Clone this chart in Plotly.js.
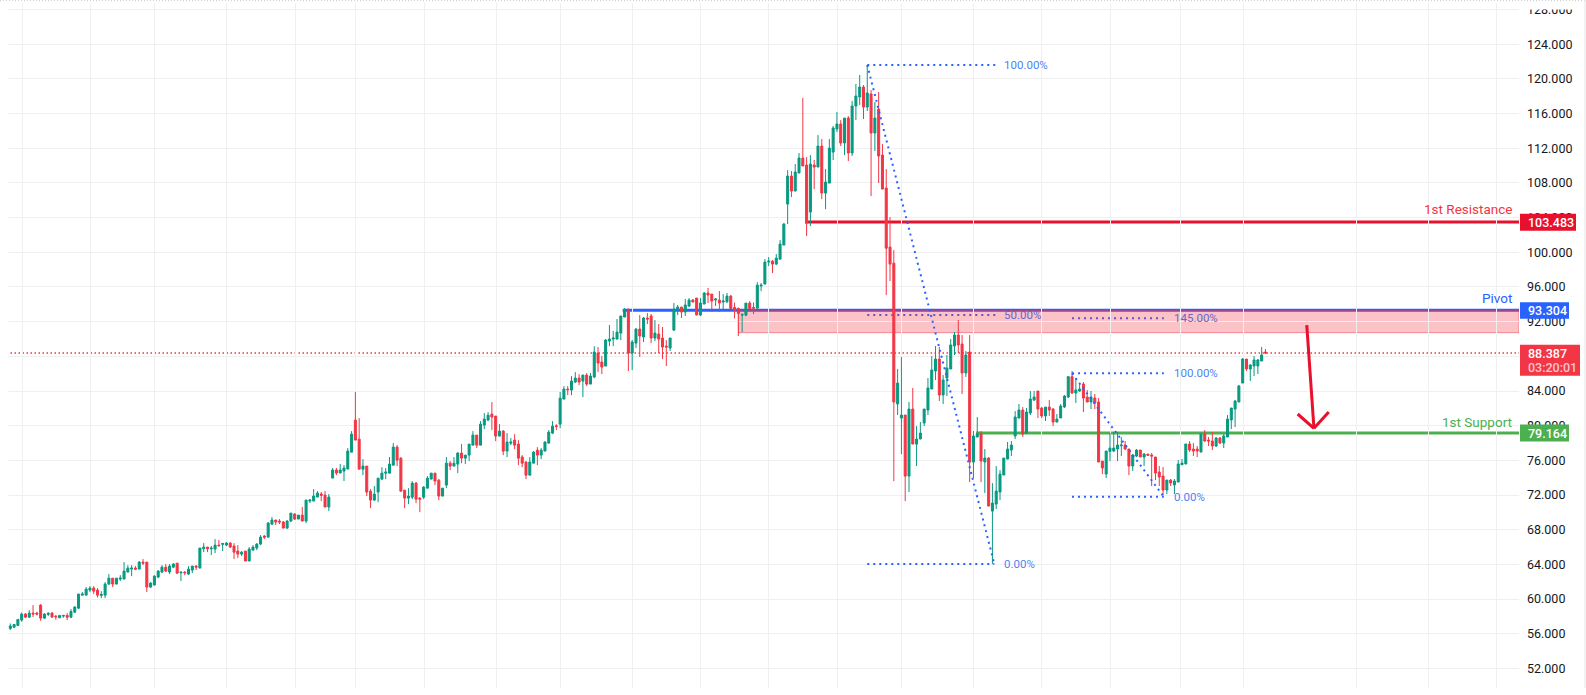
<!DOCTYPE html>
<html><head><meta charset="utf-8">
<script src="https://cdn.plot.ly/plotly-3.0.1.min.js"></script>
<style>html,body{margin:0;padding:0;background:#fff}#c{width:1586px;height:695px}</style>
</head><body><div id="c"></div>
<script>
const open = [56.62,56.77,56.96,57.58,58.27,57.92,58.39,58.39,59.31,57.81,
58.23,58.39,58.04,57.85,58.04,58.12,57.92,58.5,58.96,60.46,
60.46,61.04,61.27,61.04,60.42,60.46,61.73,62.42,61.73,62.31,
62.31,63.12,63.46,63.58,63.46,64.27,64.27,61.39,61.62,62.54,
63.12,63.69,63.12,63.69,64.15,63.04,63.12,62.89,63.35,63.81,
63.58,65.81,66.0,65.81,65.77,66.23,66.31,66.23,66.46,66.12,
65.54,65.19,65.54,64.39,65.65,65.89,66.35,67.27,67.15,68.65,
69.12,69.0,68.89,68.19,69.0,69.81,69.23,69.69,69.0,71.31,
71.31,71.77,72.12,72.0,70.62,73.96,74.89,74.54,74.77,75.0,
76.95,80.65,78.45,74.99,75.34,72.45,71.42,72.34,73.84,74.53,
74.53,75.45,77.53,76.26,72.57,71.65,71.76,73.38,71.65,71.76,
72.8,73.84,74.53,73.72,71.88,73.15,75.68,75.34,75.57,76.84,
76.26,76.61,77.76,78.92,77.76,80.07,80.65,81.34,81.11,78.8,
79.38,77.07,77.99,78.34,77.88,76.38,75.8,74.3,75.68,77.18,
76.61,77.07,77.99,79.15,79.99,80.18,83.07,84.22,84.11,85.03,
85.49,85.15,85.84,84.8,85.61,88.38,87.34,86.88,89.76,89.99,
89.99,90.68,92.53,93.45,88.38,89.53,91.15,90.22,92.42,92.65,
90.11,90.57,90.11,89.18,88.95,91.03,93.34,93.68,93.11,93.8,
94.49,94.72,92.76,94.03,95.3,95.18,94.49,94.49,94.26,94.29,
94.95,93.64,93.52,92.75,92.75,94.14,93.64,93.56,96.1,96.33,
98.87,98.98,98.64,99.21,100.83,105.56,108.79,107.06,109.14,110.87,
110.06,104.64,110.06,109.83,112.25,106.83,107.98,111.56,114.21,114.79,
112.6,115.48,111.45,116.87,117.91,119.06,116.75,118.25,113.75,116.52,
111.21,107.41,100.6,98.75,82.5,80.88,81.23,74.19,81.92,77.88,
78.46,80.31,81.81,84.23,86.31,87.69,83.54,85.5,86.54,89.19,
90.46,89.42,86.08,88.5,75.81,78.69,79.04,75.81,76.27,70.15,
70.96,72.35,74.31,76.15,77.19,78.81,80.88,81.81,79.15,81.46,
82.96,84.0,82.04,81.12,82.15,81.92,80.42,80.89,82.16,83.31,
85.66,83.77,84.0,84.81,83.31,82.73,83.19,82.73,75.92,74.42,
77.04,77.08,77.31,77.69,77.77,77.31,75.35,76.5,77.19,76.39,
76.73,76.62,76.39,74.66,74.19,72.58,73.73,73.16,73.5,75.5,
75.58,77.89,77.31,77.31,76.96,79.04,78.35,78.23,77.66,78.58,
78.0,78.69,80.66,81.92,82.73,84.92,87.69,86.54,86.89,86.89,87.46,88.5];
const high = [57.19,57.12,57.73,58.46,58.39,58.73,59.31,58.54,59.42,58.39,
58.5,58.5,58.15,58.12,58.12,58.39,58.85,59.19,60.58,60.81,
61.39,61.5,61.5,61.27,60.92,61.96,62.89,62.42,62.42,62.77,
64.27,63.92,63.92,63.81,64.39,64.62,64.27,61.96,62.77,63.35,
63.92,64.04,64.04,64.15,64.15,63.12,63.23,63.81,63.81,63.92,
65.89,66.46,66.0,66.12,66.92,66.81,66.46,66.58,66.58,66.46,
66.23,65.54,65.54,66.0,66.23,66.46,67.39,67.39,68.89,69.46,
69.12,69.23,69.0,69.12,69.92,69.92,69.69,70.62,71.42,71.54,
72.69,72.46,72.35,72.46,72.12,75.12,75.12,75.58,75.46,77.42,
79.38,83.88,80.88,76.15,75.34,72.68,73.03,73.95,75.22,75.11,
76.38,77.99,77.76,76.38,72.57,72.8,73.61,73.49,71.76,73.03,
74.18,74.53,74.53,73.84,72.8,76.38,75.92,76.38,76.95,77.88,
76.61,77.88,79.38,78.92,80.53,81.45,81.57,82.72,81.11,80.18,
79.49,79.15,78.57,79.03,78.34,76.61,75.92,76.38,77.07,77.53,
77.42,78.22,79.49,80.53,80.18,83.88,84.57,84.57,85.72,86.18,
85.95,85.84,86.07,86.07,89.18,89.07,88.03,89.99,91.61,90.92,
92.3,92.65,93.57,93.45,89.88,91.26,92.76,92.53,92.99,92.88,
92.18,91.72,91.38,89.88,90.11,94.15,93.92,93.68,94.61,94.72,
94.61,94.72,94.72,95.42,95.88,95.18,94.72,95.53,95.18,95.3,
95.07,94.21,93.64,92.95,94.14,94.37,94.21,96.56,96.45,99.21,
99.45,99.1,99.79,101.41,103.37,109.48,109.37,110.18,111.45,117.79,
110.98,111.21,110.64,113.52,113.06,109.6,113.06,114.56,116.18,115.25,
115.48,115.71,117.45,119.41,120.45,119.29,121.6,118.71,117.33,118.48,
112.48,109.6,104.06,100.25,86.54,87.92,81.23,82.73,84.35,79.96,
80.42,81.92,85.5,88.04,89.19,89.08,85.85,88.15,90.0,90.81,
92.19,90.46,88.62,90.46,79.38,81.0,79.38,77.31,76.38,73.38,
75.35,74.88,76.27,78.12,78.23,81.69,82.5,82.15,82.04,84.0,
84.0,84.0,82.15,82.15,82.96,82.04,81.35,82.5,83.54,85.66,
86.31,85.5,84.69,85.04,84.12,84.0,83.66,83.19,75.92,77.08,
79.16,79.27,79.27,78.69,78.23,77.31,76.73,77.31,77.19,76.85,
76.73,76.85,76.39,75.35,75.23,73.73,73.85,73.85,76.04,76.16,
77.89,78.23,78.0,77.66,79.04,79.5,78.69,79.27,78.69,78.69,
79.04,81.23,82.04,82.96,84.69,87.81,87.69,87.12,88.04,87.69,89.08,88.85];
const low = [56.42,56.65,56.89,57.39,57.81,57.85,57.92,58.12,57.5,57.7,
58.04,57.92,57.62,57.81,57.85,57.58,57.81,58.39,58.85,60.46,
60.46,60.81,60.58,60.19,60.12,60.12,61.62,61.38,61.73,62.08,
62.31,63.12,62.65,63.35,63.46,63.92,60.81,61.27,61.62,62.42,
63.0,63.12,62.89,63.58,62.89,62.08,62.77,62.77,63.0,63.35,
63.58,65.42,65.42,65.08,65.31,66.12,65.54,66.12,65.89,64.62,
64.73,64.96,64.39,64.39,65.65,65.65,66.23,66.92,67.15,68.54,
68.54,68.65,68.19,68.08,68.89,69.12,69.23,69.0,68.77,71.08,
71.31,71.77,71.31,70.62,70.15,73.96,74.31,74.54,73.62,75.0,
76.95,78.34,74.99,74.3,71.88,70.49,71.3,71.18,73.72,73.84,
74.53,75.45,75.34,72.45,70.49,70.95,71.53,71.07,70.03,71.53,
72.8,73.84,73.15,71.42,71.88,72.8,74.88,75.34,74.53,75.68,
75.57,75.92,77.76,77.42,77.76,79.61,80.53,79.49,78.22,78.8,
76.61,76.38,77.76,77.3,75.45,75.22,73.84,74.3,75.68,75.45,
76.15,77.07,77.99,79.03,79.49,79.72,83.07,83.53,83.53,84.92,
84.68,83.3,84.57,84.8,85.49,86.18,85.95,86.88,89.18,89.18,
89.99,89.88,92.53,86.3,86.42,88.95,87.92,89.65,91.72,89.53,
89.76,88.38,87.68,86.88,88.61,90.92,92.76,92.42,92.65,93.68,
94.26,92.76,92.65,94.03,94.15,93.11,93.8,93.11,93.45,94.15,
93.41,92.37,90.33,90.79,92.64,93.41,92.87,93.56,95.52,96.33,
98.41,97.6,98.52,99.21,100.83,103.25,106.37,107.06,109.14,109.95,
101.87,103.02,107.29,109.83,106.14,104.98,107.98,110.64,113.87,112.25,
111.21,110.52,111.1,115.25,116.98,115.37,116.29,106.48,111.68,107.98,
107.29,95.06,96.68,73.6,81.23,76.73,71.31,72.35,77.88,75.35,
78.46,79.96,81.23,84.23,85.27,82.85,82.5,83.42,86.54,88.15,
88.38,83.65,85.62,73.5,73.96,78.69,73.5,72.23,70.73,64.05,
70.38,71.42,74.31,76.15,76.5,78.46,80.88,78.69,79.04,81.23,
82.85,80.88,80.88,80.54,81.12,79.96,80.42,80.89,82.04,83.19,
83.66,82.62,83.89,81.58,82.73,81.92,81.92,75.81,74.42,73.96,
75.92,76.96,75.92,76.5,77.19,74.31,74.77,76.39,76.39,75.35,
76.54,73.04,73.73,73.04,72.0,72.12,73.04,72.12,73.5,75.5,
75.58,76.96,76.5,76.39,76.96,78.12,77.66,77.19,77.54,77.89,
77.42,78.69,79.62,79.85,82.73,84.92,86.31,85.16,85.73,85.96,87.46,88.27];
const close = [56.89,57.08,57.65,58.27,57.92,58.39,58.27,58.27,57.81,58.27,
58.35,57.92,57.96,58.12,58.12,57.92,58.58,59.08,60.58,60.58,
61.15,61.27,60.92,60.46,60.54,61.73,62.42,61.73,62.42,62.42,
63.23,63.58,63.58,63.46,64.27,64.15,61.39,61.85,62.65,63.23,
63.69,63.23,63.81,64.04,63.0,63.12,63.04,63.46,63.81,63.69,
65.89,66.0,65.81,65.89,66.23,66.15,66.42,66.46,66.0,65.42,
65.19,65.42,64.39,65.77,66.0,66.35,67.15,67.15,68.77,69.12,
68.89,68.89,68.19,69.0,69.92,69.23,69.69,69.0,71.42,71.42,
71.89,72.23,71.96,70.62,71.77,74.89,74.54,74.89,75.12,77.08,
79.03,78.34,74.99,75.34,72.34,71.42,72.11,73.95,74.53,74.65,
75.57,77.53,76.03,72.45,71.65,71.88,73.38,71.53,71.53,72.92,
73.95,74.53,73.61,71.88,72.8,75.68,75.34,75.68,76.84,76.26,
76.61,77.88,78.92,77.76,80.18,80.76,81.22,80.99,78.8,79.38,
77.07,78.11,78.11,77.76,76.26,75.68,74.3,75.8,76.95,76.61,
77.18,78.11,79.26,79.95,79.92,83.18,84.22,84.15,85.15,85.49,
85.03,85.84,84.8,85.72,88.49,87.22,86.76,89.88,89.99,90.11,
90.8,92.65,93.34,88.38,89.65,91.15,90.34,92.42,92.3,90.11,
90.68,89.99,89.07,89.07,90.11,93.45,93.68,93.11,93.92,94.49,
94.26,92.76,94.15,95.3,95.07,94.38,94.61,94.15,94.38,94.95,
93.52,93.29,92.95,92.83,94.14,93.52,93.56,96.21,96.21,98.87,
98.98,98.64,99.33,100.95,103.25,108.79,107.06,109.25,110.87,109.95,
103.37,110.18,109.83,112.25,106.83,108.1,112.02,114.33,114.79,112.6,
115.48,111.45,116.87,118.02,119.06,116.75,118.37,113.75,115.48,111.1,
107.29,100.48,98.64,82.73,84.92,81.23,74.19,81.92,77.88,78.46,
79.15,81.92,84.35,86.42,87.69,83.54,85.27,86.65,89.31,90.46,
89.31,86.08,88.15,75.81,78.81,79.04,75.92,76.27,70.73,71.08,
72.46,74.42,76.27,77.31,77.77,81.0,81.81,79.04,81.58,83.08,
83.31,81.92,81.12,82.15,81.81,80.42,80.77,82.27,83.42,85.66,
83.77,84.12,84.23,83.19,82.73,83.31,82.62,75.81,75.12,77.08,
77.42,77.42,77.77,77.77,77.31,75.35,76.62,77.19,76.39,76.73,
76.58,76.5,74.54,74.08,72.58,73.73,73.39,73.62,75.58,75.69,
77.89,77.19,77.08,77.08,79.04,78.23,78.23,77.66,78.58,78.0,
78.81,80.77,82.04,82.85,84.58,87.69,86.54,87.0,87.58,87.58,88.16,88.387];
const bars = open.map((_, i) => i + 1);
const gridBars = [4.16,22.1,39,58,76.2,92,110.2,129.2,146,165,183,200.9,219.1,236,255,272.9,291.1,309.5,326.2,356,375,392.9];
const priceTicks = [52,56,60,64,68,72,76,80,84,88,92,96,100,104,108,112,116,120,124,128];
const resistance = 103.483, pivot = 93.304, support = 79.164, last = 88.387, zoneLow = 90.73;
const fibA = {high:121.6, mid:92.77, low:64.05};
const fibB = {high:86.04, low:71.81, ext:92.4};

const BLUE='#2962FF', RED='#F23645', GREEN='#4CAF50', LINE_RED='#E8112D', FONT='Roboto, sans-serif';
const PX = v => (v-8)/1511, PY = v => (688-v)/685;
const seg=(x0,y0,x1,y1,color,width,dash,layer)=>({type:'line',xref:'x',yref:'y',x0,y0,x1,y1,layer:layer||'below',line:{color,width,dash:dash||'solid'}});
const xEnd=398.87;
const FDOT='2px,4px';
const shapes=[
 seg(162.5,pivot,xEnd,pivot,BLUE,3),
 seg(210.6,resistance,xEnd,resistance,LINE_RED,3),
 seg(255.7,support,xEnd,support,GREEN,3),
 seg(0,last,xEnd,last,RED,1.5,'1.5px,2.5px'),
 seg(227,fibA.mid,261,fibA.mid,BLUE,2,FDOT),
 seg(281,fibB.ext,305.2,fibB.ext,BLUE,2,FDOT),
 {type:'rect',xref:'x',yref:'y',x0:193,x1:xEnd,y0:zoneLow,y1:pivot,layer:'below',fillcolor:'rgba(242,54,69,0.3)',line:{color:'rgba(242,54,69,0.5)',width:1}},
 seg(227,fibA.high,261,fibA.high,BLUE,2,FDOT,'above'),
 seg(227,fibA.low,260.5,fibA.low,BLUE,2,FDOT,'above'),
 seg(227,fibA.high,260.5,fibA.low,BLUE,2,FDOT,'above'),
 seg(281,fibB.high,305.2,fibB.high,BLUE,2,FDOT,'above'),
 seg(281,fibB.low,305.2,fibB.low,BLUE,2,FDOT,'above'),
 seg(281,fibB.high,305.2,fibB.low,BLUE,2,FDOT,'above'),
 seg(342.9,91.61,344.8,79.7,LINE_RED,3,'solid','above'),
 seg(340.5,81.35,344.8,79.7,LINE_RED,3,'solid','above'),
 seg(348.7,81.58,344.8,79.7,LINE_RED,3,'solid','above')
];
const box=(p,w,h,color)=>({type:'rect',xref:'paper',yref:'paper',x0:PX(1520),x1:PX(1520+w),y0:PY(p+h/2),y1:PY(p-h/2),layer:'above',fillcolor:color,line:{width:0}});
shapes.push(
 {type:'rect',xref:'paper',yref:'paper',x0:PX(1520),x1:PX(1584),y0:PY(9.6),y1:PY(0),layer:'above',fillcolor:'#fff',line:{width:0}},
 {type:'line',xref:'paper',yref:'paper',x0:PX(0),x1:PX(1586),y0:PY(0.7),y1:PY(0.7),layer:'above',line:{color:'#c8c8c8',width:1,dash:'1px,2px'}},
 {type:'line',xref:'paper',yref:'paper',x0:PX(1585),x1:PX(1585),y0:PY(0),y1:PY(688),layer:'above',line:{color:'#e6e6e6',width:1}},
 box(222.3,56,17,'#E8112D'),
 box(310.4,49,16.5,BLUE),
 box(360.3,60,31,RED),
 box(433.1,49,17,GREEN)
);
const lab=(x,y,text,color,size,anchor)=>({xref:'x',yref:'y',x,y,text,showarrow:false,xanchor:anchor||'left',yanchor:'middle',font:{family:FONT,size:size||11.5,color},borderpad:0,borderwidth:0});
const priceLab=(py,text,color)=>({xref:'paper',yref:'paper',x:PX(1528),y:PY(py),text,showarrow:false,xanchor:'left',yanchor:'middle',font:{family:FONT,size:12.5,weight:500,color},borderpad:0,borderwidth:0});
const annotations=[
 lab(263,fibA.high,'100.00%','#4f82f3'),
 lab(263,fibA.mid,'50.00%','#6468cc'),
 lab(263,fibA.low,'0.00%','#4f82f3'),
 lab(307.9,fibB.high,'100.00%','#4f82f3'),
 lab(307.9,fibB.ext,'145.00%','#6468cc'),
 lab(307.9,fibB.low,'0.00%','#4f82f3'),
 lab(396.9,resistance+1.5,'1st Resistance',RED,13.5,'right'),
 lab(396.9,pivot+1.42,'Pivot',BLUE,13.5,'right'),
 lab(396.9,support+1.32,'1st Support',GREEN,13.5,'right'),
 priceLab(222.3,'103.483','#fff'),
 priceLab(310.4,'93.304','#fff'),
 priceLab(353,String(last),'#fff'),
 priceLab(367.5,'03:20:01','#fbc5ca'),
 priceLab(433.1,'79.164','#fff')
];
Plotly.newPlot('c',[{
 type:'candlestick',x:bars,open,high,low,close,
 increasing:{line:{color:'#089981',width:1},fillcolor:'#089981'},
 decreasing:{line:{color:'#F23645',width:1},fillcolor:'#F23645'},
 whiskerwidth:0,hoverinfo:'skip'
}],{
 width:1586,height:695,autosize:false,showlegend:false,
 margin:{l:8,r:67,t:3,b:7,pad:0},
 paper_bgcolor:'#fff',plot_bgcolor:'#fff',boxgap:0.47,boxgroupgap:0,
 xaxis:{type:'linear',range:[0.393,xEnd],rangeslider:{visible:false},tickmode:'array',tickvals:gridBars,showticklabels:false,ticks:'',showgrid:true,gridcolor:'#f0f0f0',gridwidth:1,zeroline:false,showline:false,fixedrange:true},
 yaxis:{side:'right',range:[49.75,128.75],tickmode:'array',tickvals:priceTicks,ticktext:priceTicks.map(v=>v.toFixed(3)),showgrid:true,gridcolor:'#f0f0f0',gridwidth:1,zeroline:false,showline:false,ticks:'',ticklabelstandoff:7,tickfont:{family:FONT,size:12.5,color:'#131722'},fixedrange:true,automargin:false},
 shapes,annotations,hovermode:false
},{displayModeBar:false,staticPlot:true});
</script></body></html>
